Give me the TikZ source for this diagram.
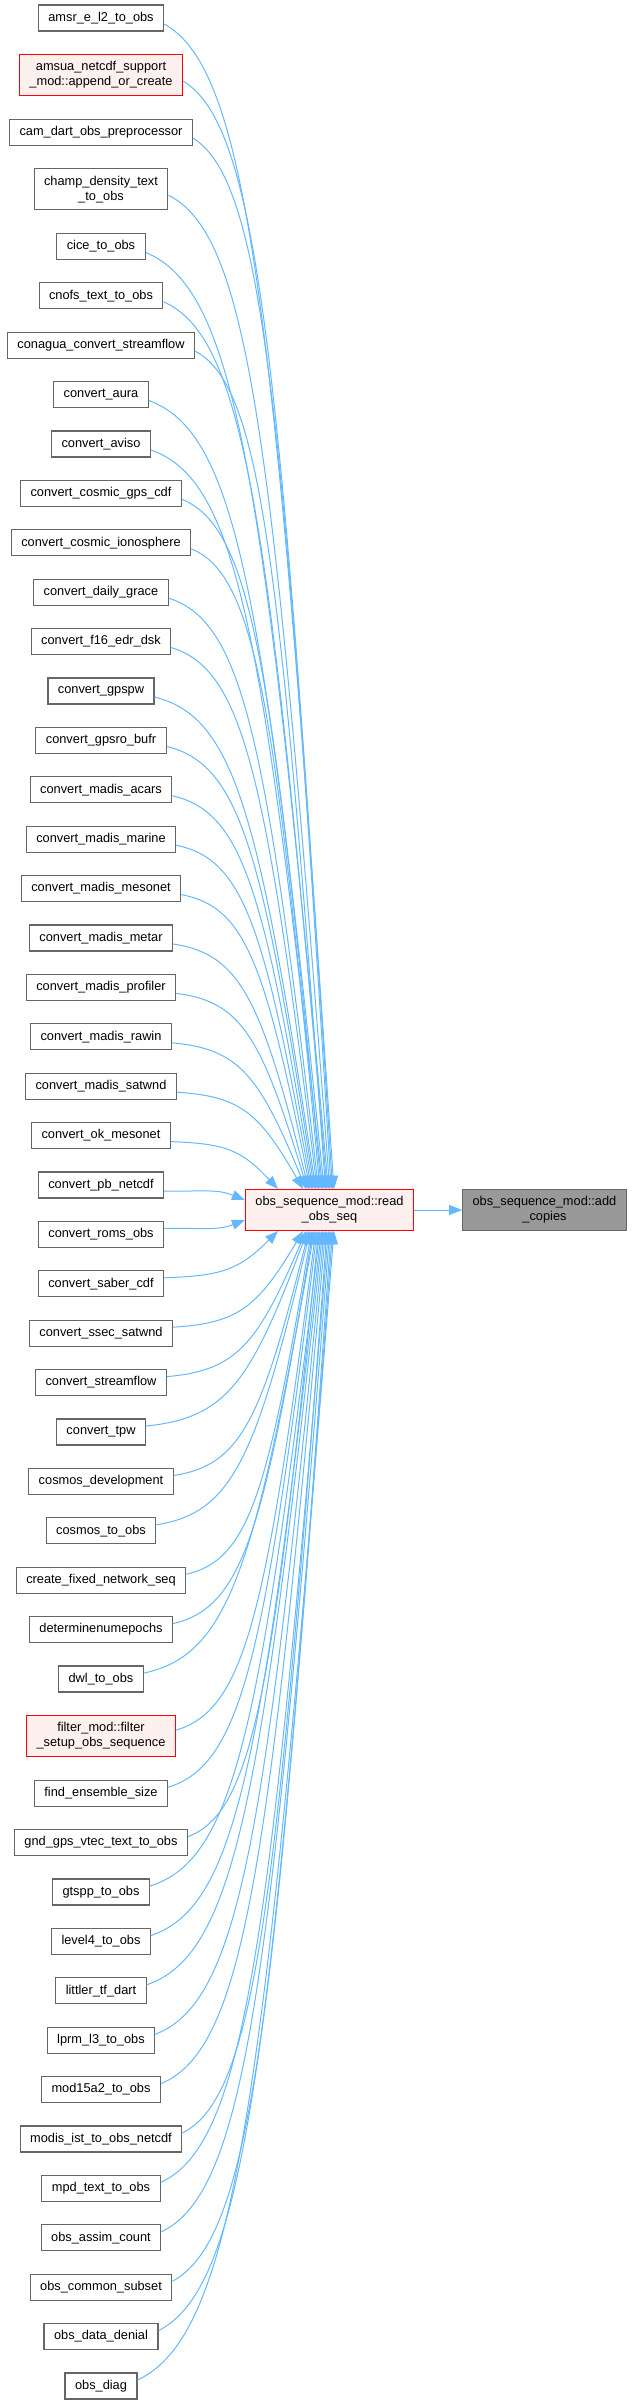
\documentclass[tikz,border=0pt]{standalone}
\usepackage{fontspec}
\setmainfont{Liberation Sans}
\usetikzlibrary{arrows.meta,positioning,calc}
\definecolor{edgeblue}{HTML}{63B8FF}
\definecolor{boxgray}{HTML}{666666}
\definecolor{hitred}{HTML}{FF0000}
\definecolor{hitfill}{HTML}{FFF0F0}
\definecolor{rootgray}{HTML}{999999}
\tikzset{
  fnbox/.style={draw=boxgray, fill=white, line width=1.1pt, inner xsep=10pt,
    inner ysep=2pt, minimum height=26pt, align=center,
    font=\fontsize{12.8}{15}\selectfont},
  twoline/.style={fnbox, minimum height=41pt},
  redbox/.style={twoline, draw=hitred, fill=hitfill},
  rootbox/.style={twoline, fill=rootgray},
  call/.style={-{Triangle[length=13pt,width=10pt]}, line width=1pt, draw=edgeblue}
}

\begin{document}
\begin{tikzpicture}[x=1pt,y=-1pt]
    \useasboundingbox (0,0) rectangle (635,2403);
    % callers, one column
    \foreach \i/\y/\sty/\txt in {
      1/18.0/fnbox/amsr\_e\_l2\_to\_obs,
      2/75.1/redbox/{amsua\_netcdf\_support\\\_mod::append\_or\_create},
      3/132.2/fnbox/cam\_dart\_obs\_preprocessor,
      4/189.3/twoline/{champ\_density\_text\\\_to\_obs},
      5/246.4/fnbox/cice\_to\_obs,
      6/295.8/fnbox/cnofs\_text\_to\_obs,
      7/345.2/fnbox/conagua\_convert\_streamflow,
      8/394.6/fnbox/convert\_aura,
      9/444.0/fnbox/convert\_aviso,
      10/493.4/fnbox/convert\_cosmic\_gps\_cdf,
      11/542.8/fnbox/convert\_cosmic\_ionosphere,
      12/592.2/fnbox/convert\_daily\_grace,
      13/641.6/fnbox/convert\_f16\_edr\_dsk,
      14/691.0/fnbox/convert\_gpspw,
      15/740.4/fnbox/convert\_gpsro\_bufr,
      16/789.8/fnbox/convert\_madis\_acars,
      17/839.2/fnbox/convert\_madis\_marine,
      18/888.6/fnbox/convert\_madis\_mesonet,
      19/938.0/fnbox/convert\_madis\_metar,
      20/987.4/fnbox/convert\_madis\_profiler,
      21/1036.8/fnbox/convert\_madis\_rawin,
      22/1086.2/fnbox/convert\_madis\_satwnd,
      23/1135.6/fnbox/convert\_ok\_mesonet,
      24/1185.0/fnbox/convert\_pb\_netcdf,
      25/1234.4/fnbox/convert\_roms\_obs,
      26/1283.8/fnbox/convert\_saber\_cdf,
      27/1333.2/fnbox/convert\_ssec\_satwnd,
      28/1382.6/fnbox/convert\_streamflow,
      29/1432.0/fnbox/convert\_tpw,
      30/1481.4/fnbox/cosmos\_development,
      31/1530.8/fnbox/cosmos\_to\_obs,
      32/1580.2/fnbox/create\_fixed\_network\_seq,
      33/1629.6/fnbox/determinenumepochs,
      34/1679.0/fnbox/dwl\_to\_obs,
      35/1736.1/redbox/{filter\_mod::filter\\\_setup\_obs\_sequence},
      36/1793.2/fnbox/find\_ensemble\_size,
      37/1842.6/fnbox/gnd\_gps\_vtec\_text\_to\_obs,
      38/1892.0/fnbox/gtspp\_to\_obs,
      39/1941.4/fnbox/level4\_to\_obs,
      40/1990.8/fnbox/littler\_tf\_dart,
      41/2040.2/fnbox/lprm\_l3\_to\_obs,
      42/2089.6/fnbox/mod15a2\_to\_obs,
      43/2139.0/fnbox/modis\_ist\_to\_obs\_netcdf,
      44/2188.4/fnbox/mpd\_text\_to\_obs,
      45/2237.8/fnbox/obs\_assim\_count,
      46/2287.2/fnbox/obs\_common\_subset,
      47/2336.6/fnbox/obs\_data\_denial,
      48/2386.0/fnbox/obs\_diag} {
      \node[\sty] (f\i) at (101,\y) {\txt};
    }
    \node[redbox] (read) at (329.5,1210) {obs\_sequence\_mod::read\\\_obs\_seq};
    \node[rootbox, right=48pt of read] (copies) {obs\_sequence\_mod::add\\\_copies};
    % where each call lands on read_obs_seq
    \foreach \i in {1,...,48} {
      \pgfmathtruncatemacro{\k}{\i<25 ? 25-\i : \i-24}
      \pgfmathsetmacro{\side}{\i<25 ? 1 : -1}
      \pgfmathsetmacro{\tx}{\k==2 ? 33 : (\k==3 ? 58 : 61+(\k-4)*1.4)}
      \ifnum\k=1
        \coordinate (t\i) at ($(read.west)+(0,{-10*(\side)})$);
      \else
        \ifnum\i<25
          \coordinate (t\i) at ($(read.north west)+(\tx,0)$);
        \else
          \coordinate (t\i) at ($(read.south west)+(\tx,0)$);
        \fi
      \fi
      \draw[call] let \p1=(f\i.east), \p2=(t\i) in
        (\x1,{\y1-(\side)*6pt})
        .. controls ({\x1+0.5*(\x2-\x1)},{\y1-(\side)*6pt+0.04*(\y2-\y1)})
        and ({\x1+0.65*(\x2-\x1)},{\y1+0.25*(\y2-\y1)}) .. (\p2);
    }
    \draw[call] (read) -- (copies);
\end{tikzpicture}
\end{document}
